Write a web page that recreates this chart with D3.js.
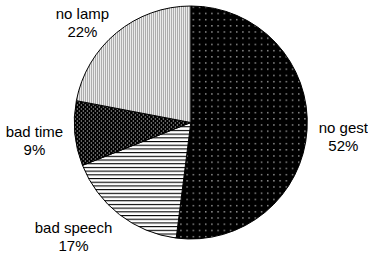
<!DOCTYPE html>
<html>
<head>
<meta charset="utf-8">
<script src="https://cdn.jsdelivr.net/npm/d3@7"></script>
<style>
  body { margin: 0; background: #fff; }
  text { font-family: "Liberation Sans", Arial, sans-serif; font-size: 15px; fill: #000; }
</style>
</head>
<body>
<div id="chart"></div>
<script>
// Slice names, shares and the percent text shown under each name.
const categories = ["no gest", "bad speech", "bad time", "no lamp"];
const values = [52, 17, 9, 22];
const percentLabels = ["52%", "17%", "9%", "22%"];

const width = 368;
const height = 262;
const cx = 190.8, cy = 122.5, radius = 116.5;

const svg = d3.select("#chart")
  .append("svg")
  .attr("width", width)
  .attr("height", height);

// Halftone fills, one per slice.
const defs = svg.append("defs");

function dotPattern(id, w, h, bg, fg, dots, size) {
  const p = defs.append("pattern")
    .attr("id", id)
    .attr("patternUnits", "userSpaceOnUse")
    .attr("width", w)
    .attr("height", h);
  p.append("rect").attr("width", w).attr("height", h).attr("fill", bg);
  dots.forEach(function(d) {
    p.append("rect")
      .attr("x", d[0]).attr("y", d[1])
      .attr("width", size).attr("height", size)
      .attr("fill", fg);
  });
}

dotPattern("p0", 6.2, 6.2, "#000", "#fff", [[2, 2]], 1.1);
dotPattern("p2", 4, 4, "#000", "#fff", [[0, 0], [2, 2]], 1);
dotPattern("p3", 2, 2, "#fff", "#333", [[0, 0]], 1);

const stripes = defs.append("pattern")
  .attr("id", "p1")
  .attr("patternUnits", "userSpaceOnUse")
  .attr("width", 10)
  .attr("height", 3.7);
stripes.append("rect").attr("width", 10).attr("height", 3.7).attr("fill", "#fff");
stripes.append("rect").attr("y", 0).attr("width", 10).attr("height", 1.1).attr("fill", "#000");

const fills = ["url(#p0)", "url(#p1)", "url(#p2)", "url(#p3)"];

// Pie layout, clockwise from 12 o'clock in data order.
const pie = d3.pie().sort(null).value(function(d) { return d; });
const arcs = pie(values);

const arc = d3.arc().innerRadius(0).outerRadius(radius);

const g = svg.append("g").attr("transform", "translate(" + cx + "," + cy + ")");

g.selectAll("path")
  .data(arcs)
  .enter()
  .append("path")
  .attr("d", arc)
  .attr("fill", function(d, i) { return fills[i]; })
  .attr("stroke", "#000")
  .attr("stroke-width", 1);

// Labels sit outside the pie along each slice's middle angle.
const lineGap = 18;
arcs.forEach(function(d, i) {
  const a = (d.startAngle + d.endAngle) / 2;
  const s = Math.sin(a), c = Math.cos(a);
  const t = g.append("text").attr("text-anchor", "middle");
  const l1 = t.append("tspan").text(categories[i]);
  const w = l1.node().getComputedTextLength();
  const ax = s * radius * 1.1;
  const bx = ax + (s >= 0 ? w / 2 : -w / 2);
  const by = -c * radius * 1.18 + 2;
  l1.attr("x", bx).attr("y", by);
  t.append("tspan").attr("x", bx).attr("y", by + lineGap).text(percentLabels[i]);
});
</script>
</body>
</html>
